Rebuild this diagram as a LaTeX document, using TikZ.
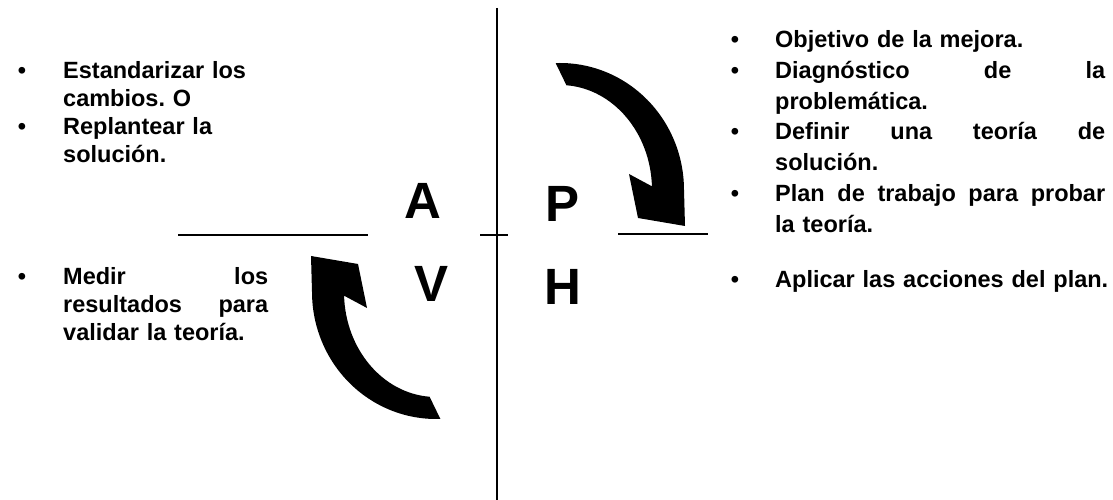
\documentclass[tikz,border=0pt]{standalone}
\usepackage{fontspec}
\setmainfont{Liberation Sans}
\frenchspacing
\newcommand\jline[2]{\leavevmode\hbox to #1{#2}}
\begin{document}
\begin{tikzpicture}[x=1pt,y=1pt,
  rule/.style={line width=2pt, draw=black},
  letter/.style={font=\fontsize{51}{51}\selectfont\bfseries, inner sep=0pt, anchor=base},
  rtext/.style={font=\fontsize{23.5}{30.5}\selectfont\bfseries, inner sep=0pt, anchor=base west, text width=345pt},
  ltext/.style={font=\fontsize{23.5}{28}\selectfont\bfseries, inner sep=0pt, anchor=base west, text width=215pt},
  bul/.style={font=\fontsize{23.5}{23}\selectfont\bfseries, inner sep=0pt, anchor=base},
  pics/curvedarrow/.style={code={
    \fill[black] (-4.33,126.92) arc[start angle=92, end angle=0, x radius=124, y radius=127]
      -- (125,-36) -- (78,-28) -- (69,16) -- (91.94,3.66)
      arc[start angle=2, end angle=86, x radius=92, y radius=105] -- cycle;
  }}
]
\useasboundingbox (0,0) rectangle (1113,500);

% axes
\coordinate (vtop) at (497,492);
\coordinate (vbot) at (497,0);
\draw[rule] (vtop) -- (vbot);
\coordinate (cl) at (480,265);
\coordinate (cr) at (508,265);
\draw[rule] (cl) -- (cr);
\coordinate (ll) at (178,265);
\coordinate (lr) at (368,265);
\draw[rule] (ll) -- (lr);
\coordinate (rl) at (618,266);
\coordinate (rr) at (708,266);
\draw[rule] (rl) -- (rr);

% letters
\node[letter] (A) at (423,281) {A};
\node[letter] (P) at (563,278) {P};
\node[letter] (V) at (432,198) {V};
\node[letter] (H) at (563,195) {H};

% curved arrows
\pic (arrowPH) at (560,310) {curvedarrow};
\pic[rotate=180] (arrowVA) at (436,208) {curvedarrow};

% right texts
\node[bul] (b1) at (735,452) {•};
\node[rtext] (t1) at (775,452) {Objetivo de la mejora.};
\node[bul] (b2) at (735,421) {•};
\node[rtext] (t2) at (775,421) {\jline{330pt}{Diagnóstico\hfill de\hfill la}\\problemática.};
\node[bul] (b3) at (735,360) {•};
\node[rtext] (t3) at (775,360) {\jline{330pt}{Definir\hfill una\hfill teoría\hfill de}\\solución.};
\node[bul] (b4) at (735,298) {•};
\node[rtext] (t4) at (775,298) {\jline{330pt}{Plan\hfill de\hfill trabajo\hfill para\hfill probar}\\la teoría.};
\node[bul] (b5) at (735,212) {•};
\node[rtext] (t5) at (775,212) {Aplicar las acciones del plan.};

% left texts
\node[bul] (c1) at (22,421) {•};
\node[ltext] (s1) at (63,421) {Estandarizar los\\cambios. O};
\node[bul] (c2) at (22,365) {•};
\node[ltext] (s2) at (63,365) {Replantear la\\solución.};
\node[bul] (c3) at (22,215) {•};
\node[ltext] (s3) at (63,215) {\jline{205pt}{Medir\hfill los}\\\jline{205pt}{resultados\hfill para}\\validar la teoría.};
\end{tikzpicture}
\end{document}
